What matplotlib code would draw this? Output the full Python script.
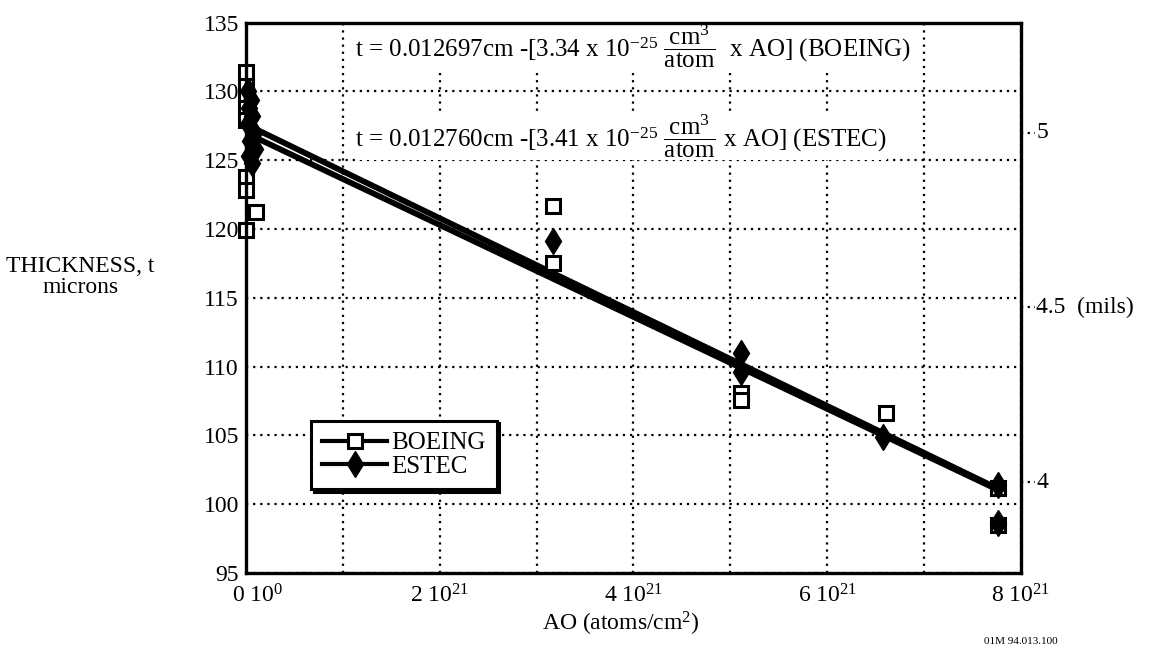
"""
Thickness loss vs atomic oxygen fluence, BOEING and ESTEC samples.
"""
import matplotlib
matplotlib.use("Agg")
import matplotlib.pyplot as plt
import matplotlib.transforms as mtransforms
from matplotlib.lines import Line2D
import numpy as np

plt.rcParams['font.family'] = ['Liberation Serif', 'DejaVu Serif']
plt.rcParams['mathtext.fontset'] = 'custom'
plt.rcParams['mathtext.rm'] = 'Liberation Serif'
plt.rcParams['mathtext.it'] = 'Liberation Serif:italic'

# AO fluence in units of 1e21 atoms/cm2, thickness in microns
boeing_ao = [0, 0, 0, 0, 0, 0, 0, 0, 0.10, 3.17, 3.17, 5.11, 5.11, 6.61, 7.76, 7.76]
boeing_t = [131.4, 130.4, 129.6, 128.8, 127.9, 123.8, 122.8, 119.9, 121.2,
            121.7, 117.5, 108.1, 107.6, 106.6, 101.2, 98.5]

estec_ao = [0.02, 0.05, 0.03, 0.06, 0.02, 0.08, 0.04, 0.09, 0.03, 0.06,
            3.17, 5.11, 5.11, 6.58, 7.76, 7.76]
estec_t = [130.0, 129.4, 128.8, 128.2, 127.6, 127.0, 126.4, 125.8, 125.3, 124.8,
           119.1, 111.0, 109.6, 104.85, 101.4, 98.6]

# fit lines from the equations printed on the chart (cm -> microns)
boeing_t0, boeing_k = 0.012697, 3.34e-25
estec_t0, estec_k = 0.012760, 3.41e-25
fit_ao = np.array([0.0, 7.76])

x_ticks = [0, 2, 4, 6, 8]
x_ticklabels = ['0 10$^{0}$', '2 10$^{21}$', '4 10$^{21}$', '6 10$^{21}$', '8 10$^{21}$']
y_ticks = [95, 100, 105, 110, 115, 120, 125, 130, 135]
mil_ticks = [4, 4.5, 5]
mil_labels = ['4', '4.5  (mils)', '5']

fig = plt.figure(figsize=(11.51, 6.51), dpi=100)
ax = fig.add_axes([0.2137, 0.1198, 0.6733, 0.8456])

def fit(t0, k, ao):
    return (t0 - k * ao * 1e21) * 1e4

ax.plot(fit_ao, fit(estec_t0, estec_k, fit_ao), color='black', lw=4.2, zorder=3,
        solid_capstyle='butt')
ax.plot(fit_ao, fit(boeing_t0, boeing_k, fit_ao), color='black', lw=4.2, zorder=3,
        solid_capstyle='butt')

ax.plot(boeing_ao, boeing_t, ls='none', marker='s', ms=10, mfc='white', mec='black',
        mew=2.2, zorder=4, clip_on=False)
ax.plot(estec_ao, estec_t, ls='none', marker='d', ms=13, mfc='black', mec='black',
        zorder=5, clip_on=False)

ax.set_xlim(0, 8)
ax.set_ylim(95, 135)
ax.set_xticks(x_ticks)
ax.set_xticklabels(x_ticklabels)
ax.set_xticks([1, 3, 5, 7], minor=True)
ax.set_yticks(y_ticks)
ax.tick_params(axis='both', which='both', length=0, labelsize=17)
ax.tick_params(axis='x', pad=8)
ax.tick_params(axis='y', pad=5)
ax.grid(True, which='both', color='black', ls=(0, (1, 2.2)), lw=1.6)
for sp in ax.spines.values():
    sp.set_linewidth(2.4)
    sp.set_zorder(9)

# first x label sits a little to the right of its tick in the original
first = ax.get_xticklabels()[0]
first.set_transform(first.get_transform() + mtransforms.ScaledTranslation(12 / 100, 0, fig.dpi_scale_trans))

# right-hand mils scale with dotted leaders
trans = mtransforms.blended_transform_factory(ax.transAxes, ax.transData)
for m, lab in zip(mil_ticks, mil_labels):
    y = m * 25.4
    ax.plot([1.0, 1.018], [y, y], transform=trans, color='black', ls=(0, (1, 2)),
            lw=1.6, clip_on=False)
    ax.text(1.02, y, lab, transform=trans, ha='left', va='center', fontsize=17)

# fit equations (white background hides the grid behind them)
box = dict(facecolor='white', edgecolor='none', pad=0)
ax.text(0.141, 0.957,
        r't = 0.012697cm -[3.34 x 10$^{-25}$ $\dfrac{\mathrm{cm}^3}{\mathrm{atom}}$  x AO] (BOEING)',
        transform=ax.transAxes, ha='left', va='center', fontsize=18, zorder=7, bbox=box)
ax.text(0.141, 0.793,
        r't = 0.012760cm -[3.41 x 10$^{-25}$ $\dfrac{\mathrm{cm}^3}{\mathrm{atom}}$ x AO] (ESTEC)',
        transform=ax.transAxes, ha='left', va='center', fontsize=18, zorder=7, bbox=box)

handles = [
    Line2D([], [], color='black', lw=3, marker='s', ms=10, mfc='white', mec='black', mew=2.2),
    Line2D([], [], color='black', lw=3, marker='d', ms=13, mfc='black', mec='black'),
]
leg = ax.legend(handles, ['BOEING', 'ESTEC'], loc='lower left', bbox_to_anchor=(0.084, 0.152),
                fontsize=18, frameon=True, fancybox=False, edgecolor='black', framealpha=1,
                shadow={'color': 'black', 'alpha': 1}, handlelength=2.6, handletextpad=0.15,
                labelspacing=0.05, borderpad=0.45, borderaxespad=0, numpoints=1)
leg.get_frame().set_linewidth(2.2)
leg.set_zorder(10)

fig.text(0.539, 1 - 624 / 651, 'AO (atoms/cm$^2$)', ha='center', va='center', fontsize=17)
fig.text(0.07, 1 - 277 / 651, 'THICKNESS, t\nmicrons', ha='center', va='center', fontsize=17,
         linespacing=1.05)
fig.text(0.887, 1 - 641 / 651, '01M 94.013.100', ha='center', va='center', fontsize=8)

fig.savefig('out.png', dpi=100)
